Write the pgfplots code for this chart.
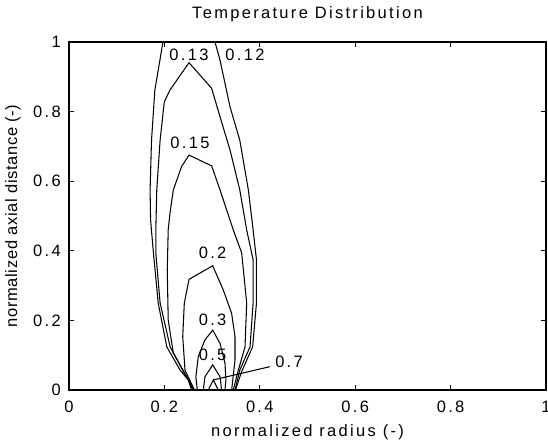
\documentclass[border=0pt]{standalone}
\usepackage{pgfplots}
\pgfplotsset{compat=1.18}
\usepackage{fontspec}
\setmainfont{Liberation Sans}[LetterSpace=14]
\newfontfamily\ylfont{Liberation Sans}[LetterSpace=4]
\begin{document}
\begin{tikzpicture}[font=\fontsize{16.5}{19}\selectfont]
\begin{axis}[
  at={(0,0)}, anchor=south west, scale only axis,
  width=477pt, height=348pt,
  xmin=0, xmax=1, ymin=0, ymax=1,
  xtick={0,0.2,0.4,0.6,0.8,1}, ytick={0,0.2,0.4,0.6,0.8,1},
  xticklabels={0,0.2,0.4,0.6,0.8,1},
  yticklabels={0,0.2,0.4,0.6,0.8,1},
  tick align=inside, major tick length=5pt,
  tick style={black, line width=0.8pt},
  axis line style={line width=1.3pt},
  /pgf/number format/assume math mode=true,
  xticklabel style={anchor=base, yshift=-23pt, inner sep=0pt},
  yticklabel style={anchor=east, inner sep=0pt, xshift=-8pt},
  title={Temperature Distribution},
  title style={at={(axis description cs:0.5,1)}, anchor=base, yshift=17.5pt},
  xlabel={normalized radius (-)},
  xlabel style={at={(axis description cs:0.5,0)}, anchor=base, yshift=-47pt},
  ylabel={\ylfont normalized axial distance (-)},
  ylabel style={at={(axis description cs:-0.109,0.5)}, anchor=base},
  every axis plot post/.append style={black, solid, line width=1.05pt, sharp plot, mark=none},
  clip=false,
]
% 0.12 (open at top): left and right pieces
\addplot coordinates {(0.197,1.0) (0.180,0.862) (0.173,0.718) (0.170,0.575) (0.171,0.489) (0.177,0.394) (0.187,0.250) (0.205,0.124) (0.233,0.057) (0.250,0.029) (0.257,0.0)};
\addplot coordinates {(0.349,0) (0.362,0.053) (0.385,0.124) (0.393,0.250) (0.393,0.374) (0.386,0.460) (0.376,0.575) (0.358,0.718) (0.3375,0.814) (0.3166,0.948) (0.306,1.0)};
% 0.13
\addplot coordinates {(0.259,0) (0.254,0.020) (0.240,0.053) (0.212,0.124) (0.191,0.250) (0.182,0.394) (0.182,0.460) (0.184,0.575) (0.191,0.718) (0.1998,0.828) (0.2117,0.862) (0.2516,0.9405) (0.299,0.867) (0.3166,0.785) (0.3375,0.690) (0.358,0.575) (0.3725,0.460) (0.386,0.374) (0.386,0.250) (0.3795,0.124) (0.358,0.057) (0.348,0)};
% 0.15
\addplot coordinates {(0.2606,0) (0.2468,0.038) (0.2187,0.106) (0.208,0.201) (0.206,0.345) (0.208,0.460) (0.2117,0.508) (0.2187,0.575) (0.236,0.642) (0.2516,0.675) (0.299,0.644) (0.3166,0.575) (0.3444,0.460) (0.362,0.394) (0.3725,0.250) (0.369,0.124) (0.355,0.057) (0.3444,0)};
% 0.2
\addplot coordinates {(0.263,0) (0.2432,0.057) (0.2384,0.153) (0.2417,0.249) (0.2516,0.318) (0.3013,0.357) (0.3235,0.287) (0.341,0.220) (0.348,0.153) (0.348,0.086) (0.341,0)};
% 0.3
\addplot coordinates {(0.269,0) (0.266,0.038) (0.271,0.096) (0.285,0.144) (0.3013,0.172) (0.3166,0.134) (0.327,0.077) (0.329,0.029) (0.327,0)};
% 0.5
\addplot coordinates {(0.2816,0) (0.285,0.038) (0.3013,0.072) (0.3166,0.038) (0.320,0)};
% 0.7
\addplot coordinates {(0.292,0) (0.3025,0.029) (0.313,0)};
% leader line for 0.7 label
\addplot coordinates {(0.3025,0.029) (0.421,0.067)};
\node at (axis cs:0.2516,0.963) {0.13};
\node at (axis cs:0.369,0.963) {0.12};
\node at (axis cs:0.2537,0.711) {0.15};
\node at (axis cs:0.301,0.393) {0.2};
\node at (axis cs:0.301,0.201) {0.3};
\node at (axis cs:0.301,0.101) {0.5};
\node[anchor=west, inner sep=0pt] at (axis cs:0.432,0.081) {0.7};
\end{axis}
\pgfresetboundingbox
\path (-69pt,-53pt) rectangle (479pt,390pt);
\end{tikzpicture}
\end{document}
